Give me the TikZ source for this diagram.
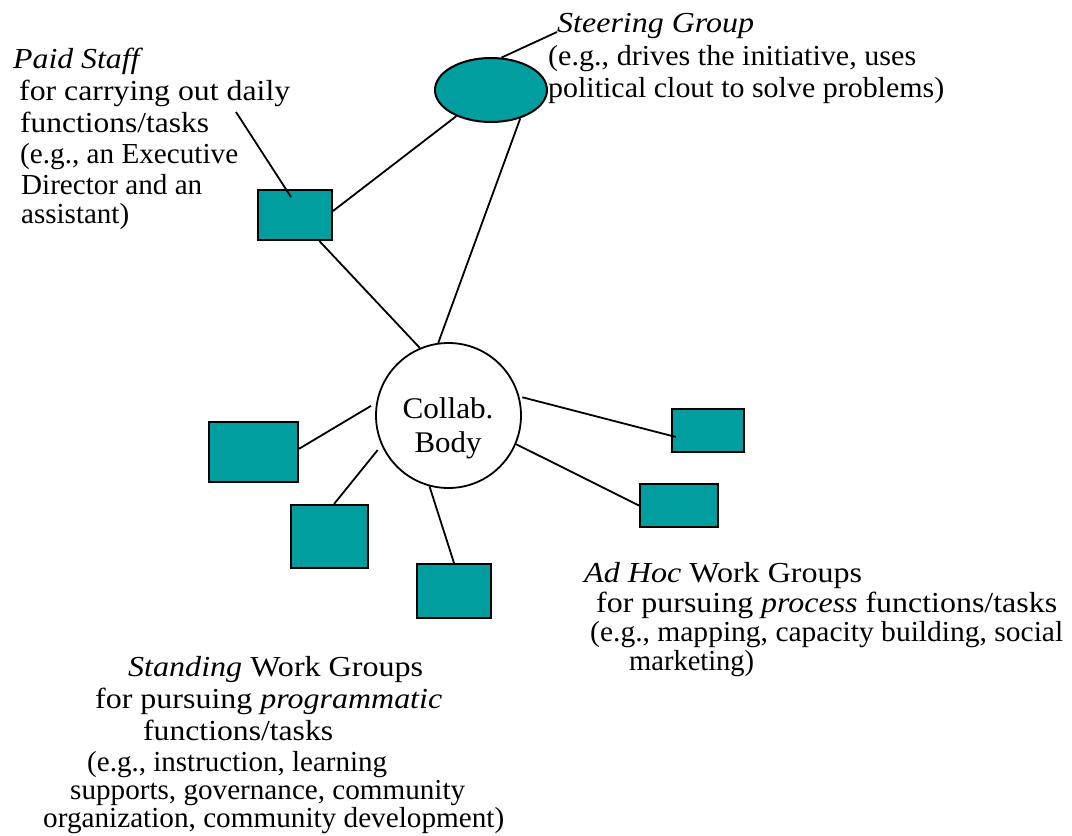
\documentclass[tikz,border=0pt]{standalone}
\usepackage{fontspec}
\usepackage{graphicx}
\setmainfont{Liberation Serif}
\usetikzlibrary{shapes.geometric,calc}
\definecolor{boxteal}{RGB}{0,158,158}
\newcommand{\fitto}[2]{\resizebox{#1pt}{\height}{#2}}
\begin{document}
\begin{tikzpicture}[x=1pt,y=-1pt,
  box/.style={rectangle,draw=black,line width=2pt,fill=boxteal,inner sep=0pt},
  txt/.style={anchor=base west,inner sep=0pt,font=\fontsize{29}{33}\selectfont},
  ctxt/.style={anchor=base,inner sep=0pt,font=\fontsize{30}{34}\selectfont},
  link/.style={line width=1.8pt}]
\useasboundingbox (0,0) rectangle (1072,836);

% shapes
\node[ellipse,draw=black,line width=2pt,fill=boxteal,minimum width=112pt,minimum height=64pt,inner sep=0pt] (st) at (491,90) {};
\node[box,minimum width=74pt,minimum height=50pt] (ps) at (295,215) {};
\node[circle,draw=black,line width=1.8pt,fill=white,minimum size=145pt,inner sep=0pt] (cb) at (448.5,415.5) {};
\node[box,minimum width=89pt,minimum height=60pt] (l1) at (253.5,452) {};
\node[box,minimum width=77pt,minimum height=63pt] (l2) at (329.5,536.5) {};
\node[box,minimum width=74pt,minimum height=54pt] (l3) at (454,591) {};
\node[box,minimum width=72pt,minimum height=43pt] (r1) at (708,430.5) {};
\node[box,minimum width=78pt,minimum height=43pt] (r2) at (679,505.5) {};

% circle text
\node[ctxt] (cbt1) at (448,418) {\fitto{91}{Collab.}};
\node[ctxt] (cbt2) at (448,452) {\fitto{67}{Body}};

% Paid Staff text
\node[txt] (pa0) at (13,68) {\fitto{130}{\textit{Paid Staff}}};
\node[txt] (pa1) at (19,100) {\fitto{271}{for carrying out daily}};
\node[txt] (pa2) at (20,132) {\fitto{189}{functions/tasks}};
\node[txt] (pa3) at (20,163) {\fitto{218}{(e.g., an Executive}};
\node[txt] (pa4) at (21,194) {\fitto{181}{Director and an}};
\node[txt] (pa5) at (21,223) {\fitto{108}{assistant)}};

% Steering Group text
\node[txt] (sg0) at (557,32) {\fitto{197}{\textit{Steering Group}}};
\node[txt] (sg1) at (548,65) {\fitto{368}{(e.g., drives the initiative, uses}};
\node[txt] (sg2) at (548,97) {\fitto{396}{political clout to solve problems)}};

% Ad Hoc text
\node[txt] (ah0) at (584,582) {\fitto{278}{\textit{Ad Hoc} Work Groups}};
\node[txt] (ah1) at (596,612) {\fitto{461}{for pursuing \textit{process} functions/tasks}};
\node[txt] (ah2) at (590,641) {\fitto{473}{(e.g., mapping, capacity building, social}};
\node[txt] (ah3) at (629,670) {\fitto{125}{marketing)}};

% Standing text
\node[txt] (sw0) at (128,676) {\fitto{295}{\textit{Standing} Work Groups}};
\node[txt] (sw1) at (95,708) {\fitto{347}{for pursuing \textit{programmatic}}};
\node[txt] (sw2) at (143,740) {\fitto{190}{functions/tasks}};
\node[txt] (sw3) at (87,771) {\fitto{300}{(e.g., instruction, learning}};
\node[txt] (sw4) at (70,799) {\fitto{395}{supports, governance, community}};
\node[txt] (sw5) at (43,827) {\fitto{461}{organization, community development)}};

% connectors
\coordinate (psd) at (236,112);
\coordinate (psin) at ($(ps.center)+(-4,-18)$);
\coordinate (r1in) at ($(r1.center)+(-32,6.5)$);
\draw[link] (st.72) -- (sg0.base west);
\draw[link] (st.217.5) -- (ps.6);
\draw[link] (st.-44) -- (cb.98);
\draw[link] (psd) -- (psin);
\draw[link] (ps) -- (cb.113);
\draw[link,shorten >=6pt] (l1.4) -- (cb.170);
\draw[link,shorten >=6pt] (l2.82) -- (cb.204);
\draw[link] (l3.north) -- (cb.255);
\draw[link,shorten <=3pt] (cb.15) -- (r1in);
\draw[link] (cb.-23) -- (r2.west);
\end{tikzpicture}
\end{document}
